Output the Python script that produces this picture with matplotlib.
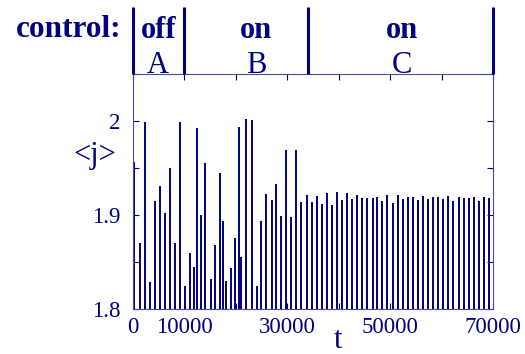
import matplotlib
matplotlib.use('Agg')
import matplotlib.pyplot as plt
from matplotlib.ticker import MultipleLocator, FixedLocator, FixedFormatter

plt.rcParams['font.family'] = 'serif'
plt.rcParams['font.serif'] = ['Liberation Serif', 'DejaVu Serif']

NAVY = '#000080'

# ── data: spike times and peak values of <j> ──
t_spk = [200, 1360, 2330, 3310, 4210, 5190, 6160, 7140, 8110, 9140,
         10110, 11020, 11860, 12390, 13160, 14000, 15110, 15940, 16920, 17500,
         18030, 19000, 19830, 20550, 21000, 21970, 23140, 24050, 24830, 25860,
         26970, 27860, 28840, 29810, 30780, 31690, 32730, 33780, 34750, 35720,
         36690, 37660, 38630, 39600, 40580, 41550, 42520, 43490, 44520, 45550,
         46600, 47500, 48470, 49440, 50490, 51460, 52440, 53410, 54380, 55350,
         56330, 57360, 58330, 59300, 60270, 61300, 62280, 63330, 64300, 65270,
         66240, 67210, 68190, 69160]
j_spk = [1.956, 1.870, 1.999, 1.829, 1.915, 1.931, 1.902, 1.950, 1.870, 1.999,
         1.824, 1.860, 1.845, 1.993, 1.900, 1.955, 1.832, 1.868, 1.945, 1.894,
         1.830, 1.844, 1.876, 1.994, 1.855, 2.002, 2.001, 1.824, 1.894, 1.922,
         1.916, 1.933, 1.899, 1.969, 1.898, 1.969, 1.914, 1.921, 1.914, 1.920,
         1.912, 1.923, 1.911, 1.924, 1.916, 1.923, 1.917, 1.921, 1.918, 1.918,
         1.918, 1.919, 1.915, 1.921, 1.913, 1.921, 1.917, 1.919, 1.919, 1.916,
         1.920, 1.917, 1.919, 1.919, 1.917, 1.920, 1.915, 1.919, 1.918, 1.918,
         1.919, 1.915, 1.919, 1.918]

# control phases
phase_edges = [0, 10000, 34000, 70000]
phase_state = ['off', 'on', 'on']
phase_label = ['A', 'B', 'C']
phase_center = [4900, 23900, 52300]

xticks = [0, 10000, 20000, 30000, 40000, 50000, 60000, 70000]
xticklabels = ['0', '10000', '', '30000', '', '50000', '', '70000']

W, H = 525, 354
fig = plt.figure(figsize=(5.25, 3.54), dpi=100)

L, R, B, T = 133, 493, 309, 74
ax = fig.add_axes([L / W, 1 - B / H, (R - L) / W, (B - T) / H])
ax.vlines(t_spk, 1.8, j_spk, color=NAVY, lw=1.4)
ax.set_xlim(0, 70000)
ax.set_ylim(1.8, 2.05)

ax.xaxis.set_major_locator(FixedLocator(xticks))
ax.xaxis.set_major_formatter(FixedFormatter(xticklabels))
ax.yaxis.set_major_locator(MultipleLocator(0.1))
ax.yaxis.set_minor_locator(MultipleLocator(0.05))
ax.yaxis.set_major_formatter(plt.FuncFormatter(lambda v, p: f'{v:g}'))
ax.tick_params(which='both', direction='in', top=True, right=True,
               colors=NAVY, labelsize=16.5, width=0.8, length=4)
ax.tick_params(axis='x', pad=6)
ax.tick_params(axis='y', pad=9)
for s in ax.spines.values():
    s.set_color('#4a4aa0')
    s.set_linewidth(0.8)

ax.set_ylabel('<j>', color=NAVY, fontsize=22, rotation=0, labelpad=0)
ax.yaxis.set_label_coords((95 - L) / (R - L), (B - 170) / (B - T))
ax.set_xlabel('t', color=NAVY, fontsize=22)
ax.xaxis.set_label_coords((338 - L) / (R - L), -(340 - B) / (B - T))
ax.xaxis.label.set_va('center')

# ── control band above the plot ──
band = fig.add_axes([L / W, 1 - T / H, (R - L) / W, (T - 7) / H])
band.set_xlim(0, 70000)
band.set_ylim(0, 1)
band.axis('off')
band.vlines(phase_edges, 0, 1, color=NAVY, lw=2.2, clip_on=False)
for xc, st, lb in zip(phase_center, phase_state, phase_label):
    band.text(xc, 0.54, st, ha='center', va='baseline', color=NAVY,
              fontsize=22, fontweight='bold')
    band.text(xc, 0.02, lb, ha='center', va='baseline', color=NAVY, fontsize=22)
fig.text(69 / W, 1 - 37 / H, 'control:', ha='center', va='baseline',
         color=NAVY, fontsize=22.5, fontweight='bold')

fig.savefig('out.png', dpi=100)
